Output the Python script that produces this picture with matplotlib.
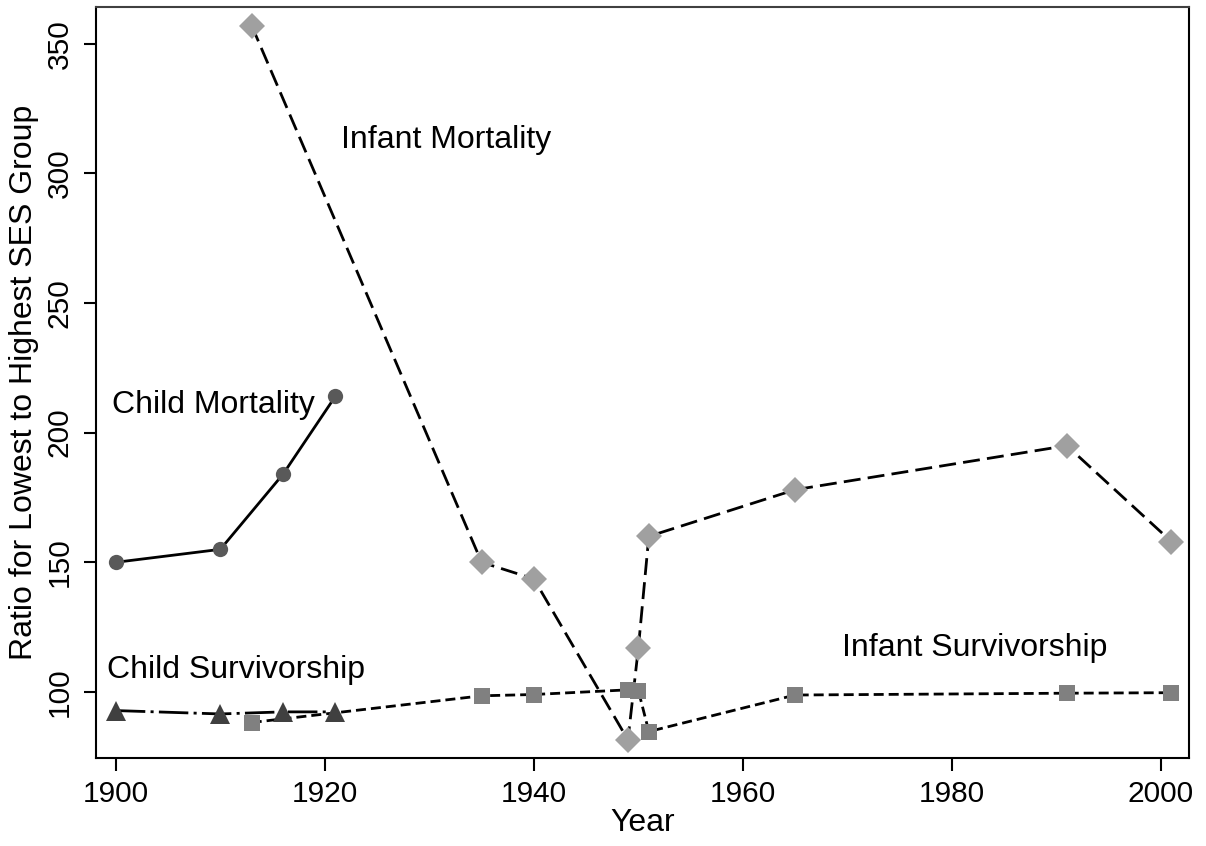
import matplotlib.pyplot as plt

plt.rcParams['font.family'] = ['Liberation Sans', 'DejaVu Sans']

# Child mortality
cm_years = [1900, 1910, 1916, 1921]
cm_vals = [150, 155, 184, 214]

# Child survivorship
cs_years = [1900, 1910, 1916, 1921]
cs_vals = [92.8, 91.5, 92.3, 92.3]

# Infant mortality
im_years = [1913, 1935, 1940, 1949, 1950, 1951, 1965, 1991, 2001]
im_vals = [357, 150, 143.6, 81.5, 117, 160, 178, 195, 158]

# Infant survivorship
is_years = [1913, 1935, 1940, 1949, 1950, 1951, 1965, 1991, 2001]
is_vals = [88.2, 98.5, 99, 100.8, 100.5, 84.7, 98.8, 99.5, 99.7]

fig = plt.figure(figsize=(12.06, 8.46), dpi=100)
ax = fig.add_axes([0.0796, 0.104, 0.9064, 0.888])

lw = 2.0
ax.plot(im_years, im_vals, color='black', lw=lw, dashes=(6.1, 2.6), zorder=2)
ax.plot(is_years, is_vals, color='black', lw=lw, dashes=(3.6, 1.8), zorder=2)
ax.plot(cm_years, cm_vals, color='black', lw=lw, ls='-', zorder=2)
ax.plot(cs_years, cs_vals, color='black', lw=lw, dashes=(10.6, 1.9, 1.1, 1.9), zorder=2)

ax.plot(im_years, im_vals, ls='none', marker='D', ms=13, color='#a0a0a0', mew=0, zorder=3)
ax.plot(is_years, is_vals, ls='none', marker='s', ms=12, color='#808080', mew=0, zorder=3)
ax.plot(cm_years, cm_vals, ls='none', marker='o', ms=11, color='#595959', mew=0, zorder=3)
ax.plot(cs_years, cs_vals, ls='none', marker='^', ms=15, color='#404040', mew=0, zorder=3)

fs = 23
ax.text(1921.5, 313, 'Infant Mortality', fontsize=fs, ha='left', va='center')
ax.text(1899.6, 210.5, 'Child Mortality', fontsize=fs, ha='left', va='center')
ax.text(1899.2, 108.5, 'Child Survivorship', fontsize=fs, ha='left', va='center')
ax.text(1969.5, 117, 'Infant Survivorship', fontsize=fs, ha='left', va='center')

ax.set_xlim(1898.1, 2002.7)
ax.set_ylim(74.5, 364.3)
ax.set_xticks([1900, 1920, 1940, 1960, 1980, 2000])
ax.set_yticks([100, 150, 200, 250, 300, 350])
ax.tick_params(axis='both', direction='out', length=9, width=1.5, labelsize=21.5,
               colors='black', pad=7)
for lab in ax.get_yticklabels():
    lab.set_rotation(90)
    lab.set_va('center')
for sp in ax.spines.values():
    sp.set_linewidth(1.5)
ax.spines['top'].set_color('#404040')

ax.set_xlabel('Year', fontsize=fs, labelpad=0)
ax.set_ylabel('Ratio for Lowest to Highest SES Group', fontsize=fs, labelpad=5)

fig.savefig('out.png', dpi=100)
